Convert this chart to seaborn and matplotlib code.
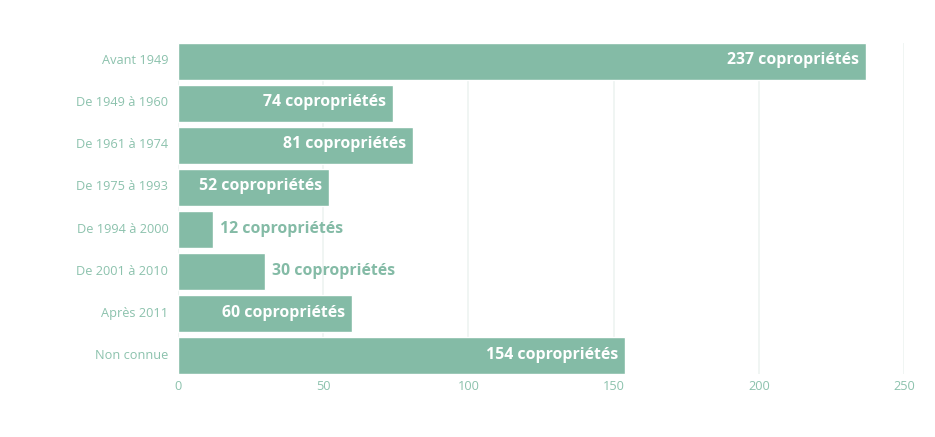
import matplotlib
matplotlib.use("Agg")
import matplotlib.pyplot as plt
import matplotlib.transforms as mtransforms
import seaborn as sns
import pandas as pd

# Période de construction des copropriétés
periodes = ["Avant 1949", "De 1949 à 1960", "De 1961 à 1974", "De 1975 à 1993",
            "De 1994 à 2000", "De 2001 à 2010", "Après 2011", "Non connue"]
nb_coproprietes = [237, 74, 81, 52, 12, 30, 60, 154]
xticks = [0, 50, 100, 150, 200, 250]

VERT = "#84bba6"
VERT_TXT = "#8cc2ad"
GRILLE = "#eef3f1"

df = pd.DataFrame({"periode": periodes, "nb": nb_coproprietes})

sns.set_theme(style="white")
plt.rcParams["font.family"] = ["Open Sans", "DejaVu Sans"]

fig = plt.figure(figsize=(9.35, 4.37), dpi=100)
ax = fig.add_axes([178 / 935, 1 - 374 / 437, 726 / 935, 331 / 437])

sns.barplot(df, x="nb", y="periode", orient="h", color=VERT, saturation=1,
            width=0.88, ax=ax, zorder=2)

ax.set_xlim(0, 250)
ax.set_ylim(7.44, -0.44)
ax.set_xticks(xticks)
ax.set_xlabel("")
ax.set_ylabel("")
for x in xticks:
    ax.axvline(x, color=GRILLE, lw=1.2, zorder=0)
for s in ax.spines.values():
    s.set_visible(False)
ax.tick_params(axis="both", length=0, colors=VERT_TXT, labelsize=9.2)
ax.tick_params(axis="y", pad=7)
ax.tick_params(axis="x", pad=4)

# remonter un peu les libellés de l'axe y (Open Sans descend un peu)
decal = mtransforms.ScaledTranslation(0, 2 / 100, fig.dpi_scale_trans)
for lab in ax.get_yticklabels():
    lab.set_transform(lab.get_transform() + decal)

# Étiquettes : dans la barre si elle rentre, sinon à droite
fig.canvas.draw()
rend = fig.canvas.get_renderer()
px_par_unite = ax.transData.transform((1, 0))[0] - ax.transData.transform((0, 0))[0]
for i, v in enumerate(nb_coproprietes):
    txt = f"{v} copropriétés"
    t = ax.annotate(txt, (v, i), xytext=(-7, 1), textcoords="offset pixels",
                    ha="right", va="center", color="white", fontsize=11.4,
                    fontweight="bold", family=["Open Sans", "DejaVu Sans"], zorder=3)
    w = t.get_window_extent(rend).width
    if w + 10 > v * px_par_unite:
        t.set_position((7, 1))
        t.set_ha("left")
        t.set_color(VERT)

fig.savefig("out.png", dpi=100)
